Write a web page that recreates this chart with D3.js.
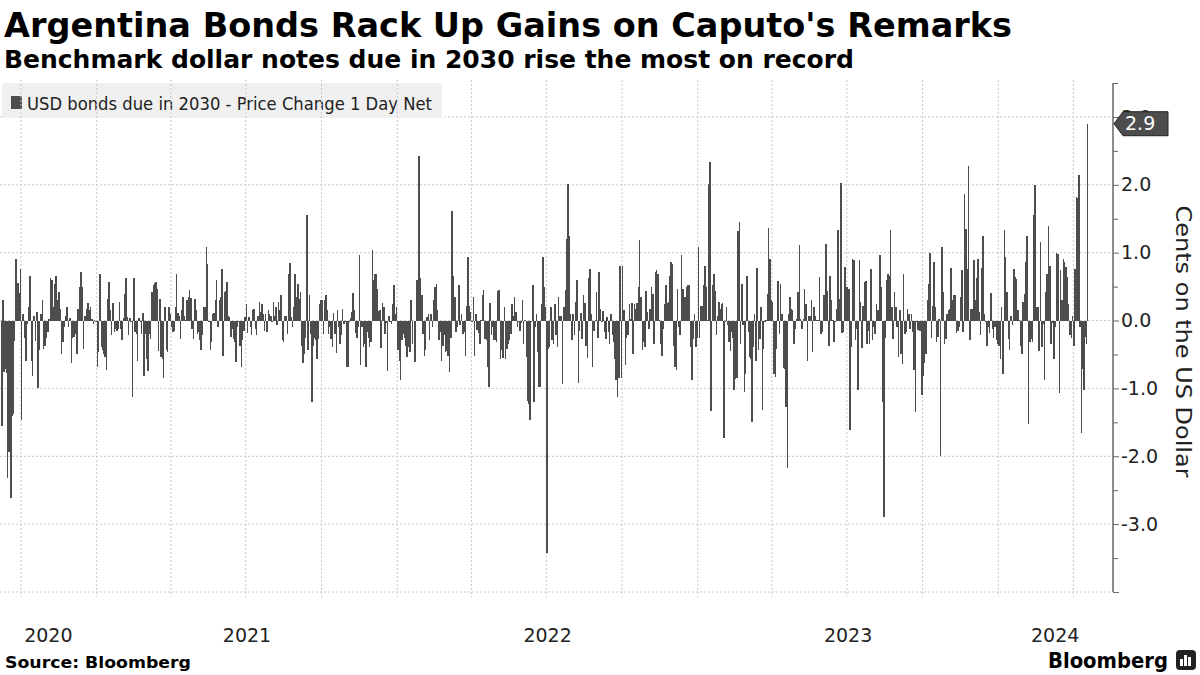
<!DOCTYPE html>
<html>
<head>
<meta charset="utf-8">
<script src="https://cdn.jsdelivr.net/npm/d3@7"></script>
<style>
  html, body { margin: 0; padding: 0; background: #fff; }
  svg { display: block; font-family: "DejaVu Sans", sans-serif; }
</style>
</head>
<body>
<svg id="chart" width="1200" height="675"></svg>
<script>
// Daily net price change (cents on the dollar)
const segmentStarts = ['2020-09-07', '2020-10-01', '2021-01-01', '2021-04-01', '2021-07-01',
  '2021-10-01', '2022-01-01', '2022-04-01', '2022-07-01', '2022-10-01', '2023-01-01',
  '2023-04-01', '2023-07-01', '2023-10-01', '2024-01-01', '2024-04-01'];
const lastDay = '2024-04-19';

const q2020Sep = [-1.55, 0.3, -0.76, -0.72, -0.78, -2.32, -1.94, -1.92, -2.62, -1.4, -1.38, -0.3, 0.91, 0.05, 0.55, 0.4, 0.76];
const q2020Q4 = [-1.46, 0.1, -0.25, -0.59, -0.05, 0.2, 0.65, -0.59, -0.82, 0.06, -0.3, 0.12, -1.0, -0.44, 0.1, 0.3, -0.42, -0.37, -0.25, -0.17, 0.02, 0.63, 0.6, 0.2, 0.54, 0.65, 0.3, 0.42, 0.17, -0.49, -0.32, -0.1, 0.07, 0.2, -0.1, 0.03, -0.63, -0.26, -0.24, -0.2, -0.49, 0.17, 0.49, 0.71, 0.5, -0.42, 0.06, 0.17, 0.26, 0.15, 0.2, 0.02, -0.05, 0.01, -0.02];
const q2021Q1 = [-0.68, -0.47, 0.68, -0.39, -0.44, -0.49, -0.54, -0.73, 0.32, 0.57, 0.15, -0.22, 0.26, -0.17, -0.12, -0.15, -0.12, 0.28, -0.12, -0.29, 0.04, 0.39, 0.63, 0.05, -0.22, 0.04, -0.02, -1.12, 0.63, -0.17, -0.2, -0.59, 0.04, -0.02, -0.2, 0.11, -0.81, -0.2, -0.57, -0.74, -0.2, -0.27, 0.42, 0.52, 0.55, 0.57, 0.47, -0.45, 0.32, -0.54, -0.57, -0.85, 0.2, -0.43, -0.47, 0.2, 0.1];
const q2021Q2 = [-0.1, -0.17, -0.15, 0.2, 0.68, 0.11, 0.06, -0.27, 0.16, 0.35, 0.07, 0.01, 0.3, 0.34, 0.45, 0.33, -0.12, -0.27, 0.32, 0.16, -0.2, -0.17, -0.29, -0.43, -0.21, 0.2, 0.2, 1.09, 0.83, -0.02, -0.44, -0.32, 0.1, 0.11, 0.3, 0.59, -0.1, 0.3, 0.34, 0.76, -0.52, 0.42, 0.44, 0.57, 0.06, 0.05, -0.24, -0.12, -0.27, -0.32, -0.61, -0.1, -0.02, -0.37, -0.69, -0.29, -0.15, 0.05];
const q2021Q3 = [0.24, -0.19, 0.05, -0.1, -0.22, 0.15, 0.17, -0.12, -0.22, 0.07, 0.27, 0.12, 0.25, 0.1, -0.15, 0.1, -0.17, 0.15, 0.1, 0.06, -0.02, 0.27, 0.06, 0.2, -0.07, 0.27, 0.15, 0.38, -0.29, -0.32, 0.07, 0.06, -0.2, 0.69, 0.85, 0.05, -0.1, 0.2, 0.69, 0.34, 0.54, 0.32, 0.42, -0.37, -0.63, -0.49, -0.25, 1.55, -0.44, 0.38, -0.2, -1.2, -0.38, -0.25, -0.29, -0.57, -0.27, 0.25, 0.3];
const q2021Q4 = [0.3, -0.2, 0.3, 0.37, 0.15, -0.2, -0.1, -0.27, -0.39, 0.11, -0.2, -0.48, 0.15, -0.1, -0.34, -0.21, 0.17, -0.05, -0.02, -0.68, -0.69, -0.02, 0.04, 0.12, 0.4, 0.15, -0.19, -0.25, -0.1, 0.97, -0.66, -0.1, -0.39, -0.34, -0.69, -0.17, -0.25, -0.39, -0.32, 1.04, 0.59, 0.69, 0.68, 0.47, 0.14, 0.15, -0.4, 0.26, 0.2, -0.2, -0.04, -0.74, 0.06, -0.02, -0.05, 0.25, 0.53, 0.1, 0.2];
const q2022Q1 = [-0.44, -0.59, -0.88, -0.29, -0.2, -0.25, -0.37, -0.54, -0.39, -0.47, 0.3, -0.34, -0.01, -0.61, 0.59, 0.59, 2.43, 0.63, 0.37, -0.2, -0.52, -0.44, 0.05, 0.1, -0.29, 0.1, -0.1, 0.3, 0.49, 0.54, 0.15, -0.29, -0.17, -0.59, -0.37, -0.21, -0.47, -0.45, -0.52, -0.76, -0.25, 1.62, 0.66, 0.34, -0.17, -0.1, 0.52, -0.07, 0.1, -0.2, -0.17, -0.52, 0.21, 0.94, 0.22, 0.12];
const q2022Q2 = [-0.02, 0.35, -0.52, 0.1, -0.14, -0.19, -0.34, 0.01, 0.38, 0.45, -0.27, -0.29, -0.69, -0.98, 0.26, -0.22, -0.1, -0.29, -0.29, -0.32, 0.43, 0.45, -0.57, -0.44, -0.55, 0.2, -0.57, -0.42, -0.34, -0.29, -0.2, 0.25, 0.07, 0.35, 0.12, -0.1, -0.02, -0.15, -0.04, 0.3, -0.34, 0.01, -0.54, -1.18, -1.23, -1.46, -0.02, 0.53, -1.2, -0.1, 0.09, -0.47, -0.98, -0.98, 0.25, 0.94, 0.5, 0.2];
const q2022Q3 = [-3.43, -0.42, -0.39, 0.2, -0.29, -0.35, 0.25, -0.22, -0.39, 0.35, 0.07, 0.06, -0.93, 0.2, 0.45, 1.2, 2.01, 1.25, 0.1, -0.29, 0.1, -0.22, 0.27, 0.6, -0.92, -0.15, 0.11, -0.27, 0.38, 0.26, -0.38, -0.55, 0.63, 0.76, 0.1, -0.69, -0.15, 0.01, 0.42, -0.25, 0.71, 0.17, -0.02, 0.14, -0.17, -0.27, 0.05, -0.17, -0.35, 0.1, -0.22, -0.32, -0.57, -0.88, -1.13, -0.85, 0.81, -0.84];
const q2022Q4 = [0.81, 0.16, -0.66, -0.25, -0.22, 0.25, 0.02, 0.26, -0.49, 0.25, 0.17, 0.26, 0.49, 1.19, 0.35, -0.44, -0.32, -0.39, 0.44, 0.12, -0.12, 0.17, 0.5, 0.39, -0.34, 0.71, 0.74, 0.69, 0.01, -0.35, -0.52, -0.12, 0.24, 0.53, 0.26, 0.27, 0.65, 0.86, 0.84, -0.37, -0.69, -0.73, 0.47, -0.1, -0.22, 0.96, 0.47, 0.34, 0.34, 0.49, 0.52, 0.53, -0.39, -0.88, -0.27, 0.09, -0.39, -0.25];
const q2023Q1 = [1.09, -0.25, 0.22, 0.22, 0.52, 0.81, 0.5, 0.01, 2.01, 2.33, -1.33, 0.52, 0.69, 0.44, -0.22, 0.07, 0.27, 0.17, 0.25, 0.26, -1.73, -0.02, 0.2, -0.07, -0.32, -0.45, -0.17, -0.25, -1.02, -0.86, -0.85, 1.32, 1.45, -0.35, 0.54, -0.07, -1.06, -0.79, 0.65, -0.17, -0.54, -0.57, -1.49, -0.39, 0.1, -0.59, 0.77, -0.44, -0.27, 0.2, -1.32, -0.42, -0.02, 0.01, 0.39, 1.37, 0.91, 0.3];
const q2023Q2 = [0.28, -0.79, -0.83, -0.42, 0.58, -0.2, 0.54, 0.09, -0.7, -0.71, -1.28, -2.18, 0.1, 0.34, 0.17, 0.15, -0.35, -0.12, 0.02, 0.42, 1.11, 0.02, -0.12, 0.02, 0.47, 0.25, -0.59, 0.07, 0.07, 0.3, -0.47, 0.2, 0.07, 0.01, 0.01, 0.64, -0.2, -0.17, 0.37, 0.38, 1.13, 0.43, -0.38, 0.66, 0.3, 0.01, -0.32, -0.02, 0.17, 1.33, 0.32, 2.02, -0.19, -0.17, 0.79, 0.49];
const q2023Q3 = [0.49, 0.47, -1.62, -0.39, 0.91, 0.89, -0.29, -0.12, -1.02, 0.89, 0.27, -0.4, 0.22, 0.57, 0.58, -0.34, -0.15, -0.35, 0.76, -0.29, -0.1, -0.2, 0.24, 0.15, 0.15, 0.97, 0.5, -1.2, -2.89, -0.25, 0.59, 0.69, 0.66, 1.33, 0.2, -0.27, 0.42, 0.2, -0.1, -0.53, 0.15, -0.49, -0.64, 0.68, -0.2, -0.17, 0.17, 0.1, -0.12, 0.1, -0.17, -0.73, -1.35, -0.02, -0.14, -0.15, -0.15, -1.1];
const q2023Q4 = [-0.81, -0.63, -0.49, 0.3, 0.54, 0.99, -0.25, 0.22, 0.86, 0.2, -0.32, -0.24, 0.02, -1.99, 1.09, 0.42, -0.35, -0.27, 0.1, 0.16, 0.17, 0.78, 0.3, 0.37, 0.38, -0.19, -0.15, -0.1, 0.34, 0.74, -0.17, 1.87, 1.35, 0.76, 2.27, -0.29, 0.17, 0.17, 0.89, 0.3, 0.63, 0.91, 0.12, -0.21, 0.78, 1.25, 0.1, -0.02, -0.37, -0.1, -0.19, 0.4, -0.12, -0.25, -0.1, -0.29, -0.35];
const q2024Q1 = [-0.37, -0.57, 0.2, -0.79, 1.34, 0.93, 0.42, -0.27, -0.44, 0.07, -0.07, 0.76, 0.64, 0.61, 0.15, 0.01, -0.37, -0.49, 0.28, 0.39, 0.86, 1.25, -1.52, -0.32, -0.27, -0.32, 1.55, 1.99, 0.2, 0.2, -0.45, 1.15, -0.39, -0.05, -0.88, 0.42, 0.69, 1.39, 0.81, -0.34, -0.04, -0.57, -0.1, 0.99, 0.98, -1.07, 0.74, 0.3, 0.91, 0.86, 0.79, 0.64, 0.25, -0.22, -0.26, 0.06];
const q2024Apr = [-0.37, 0.76, 1.82, 1.81, 2.15, -0.1, -1.66, -0.71, -1.03, -0.24, -0.35, 2.9];

const segments = [q2020Sep, q2020Q4, q2021Q1, q2021Q2, q2021Q3, q2021Q4, q2022Q1, q2022Q2,
  q2022Q3, q2022Q4, q2023Q1, q2023Q2, q2023Q3, q2023Q4, q2024Q1, q2024Apr];

const yTicks = [-4, -3, -2, -1, 0, 1, 2, 3];
const yearLabels = [2020, 2021, 2022, 2023, 2024];
const lastValueLabel = '2.9';

const title = "Argentina Bonds Rack Up Gains on Caputo's Remarks";
const subtitle = 'Benchmark dollar notes due in 2030 rise the most on record';
const legendLabel = 'USD bonds due in 2030 - Price Change 1 Day Net';
const axisTitle = 'Cents on the US Dollar';

const barColor = '#4d4d4d';
const gridColor = '#c8c8c8';
const parseDay = d3.timeParse('%Y-%m-%d');

// spread each segment's bars across its own stretch of the calendar
const bars = [];
segments.forEach((vals, i) => {
  const start = parseDay(segmentStarts[i]);
  const end = parseDay(i + 1 < segmentStarts.length ? segmentStarts[i + 1] : lastDay);
  const step = (end - start) / vals.length;
  vals.forEach((v, j) => bars.push({ date: new Date(+start + (j + 0.5) * step), value: v }));
});

const svg = d3.select('#chart');
const plot = { left: 0, right: 1112, top: 83, bottom: 592 };

const x = d3.scaleTime()
  .domain([new Date(2020, 8, 5, 12), new Date(2024, 4, 18)])
  .range([plot.left, plot.right]);

const y = d3.scaleLinear()
  .domain([-4, 3.5])
  .range([plot.bottom, plot.top]);

function fit(sel, w) {
  sel.attr('textLength', w).attr('lengthAdjust', 'spacingAndGlyphs');
}

// title block
svg.append('text').attr('x', 4).attr('y', 37)
  .attr('font-size', 34).attr('font-weight', 'bold').attr('fill', '#000')
  .text(title).call(fit, 1008);
svg.append('text').attr('x', 4).attr('y', 68)
  .attr('font-size', 24).attr('font-weight', 'bold').attr('fill', '#000')
  .text(subtitle).call(fit, 850);

// horizontal grid
svg.append('g').selectAll('line').data(yTicks).join('line')
  .attr('x1', plot.left).attr('x2', plot.right)
  .attr('y1', d => y(d)).attr('y2', d => y(d))
  .attr('stroke', gridColor).attr('stroke-dasharray', '2,2');

// legend
const legend = svg.append('g');
legend.append('rect').attr('x', 2).attr('y', 83).attr('width', 440).attr('height', 35)
  .attr('rx', 2).attr('fill', '#f0f0f0');
legend.append('rect').attr('x', 11).attr('y', 96).attr('width', 11).attr('height', 13).attr('fill', barColor);
legend.append('text').attr('x', 27).attr('y', 110).attr('font-size', 18).attr('fill', '#222')
  .text(legendLabel).call(fit, 405);

// vertical grid on quarter starts
svg.append('g').selectAll('line')
  .data(d3.timeMonth.every(3).range(x.domain()[0], x.domain()[1]))
  .join('line')
  .attr('x1', d => x(d)).attr('x2', d => x(d))
  .attr('y1', plot.top - 3).attr('y2', plot.bottom + 5)
  .attr('stroke', gridColor).attr('stroke-dasharray', '2,2');

// bars
const barW = 1.5;
svg.append('g').attr('shape-rendering', 'crispEdges')
  .selectAll('rect').data(bars).join('rect')
  .attr('x', d => x(d.date) - barW / 2)
  .attr('width', barW)
  .attr('y', d => y(Math.max(0, d.value)))
  .attr('height', d => Math.abs(y(d.value) - y(0)))
  .attr('fill', barColor);

// right axis
const yAxis = d3.axisRight(y)
  .tickValues(d3.range(-4, 3.51, 0.5))
  .tickSize(6)
  .tickFormat(d => (Number.isInteger(d) && d > -4) ? d.toFixed(1) : '');
const axisG = svg.append('g').attr('transform', `translate(${plot.right + 1},0)`).call(yAxis);
axisG.select('.domain').attr('stroke', '#666').attr('stroke-width', 1.5).attr('d', `M0,${plot.top}V${plot.bottom}`);
axisG.selectAll('.tick line').attr('stroke', '#666')
  .attr('x2', d => Number.isInteger(d) ? 6 : 5);
axisG.selectAll('.tick text')
  .attr('x', 8).attr('font-size', 19).attr('fill', '#222')
  .attr('font-family', '"DejaVu Sans", sans-serif');

// last value callout, drawn over the 3.0 tick label as in the original
const yl = y(bars[bars.length - 1].value);
const callout = svg.append('g');
callout.append('path')
  .attr('d', `M${plot.right + 2},${yl} L${plot.right + 11},${yl - 12} H${plot.right + 56} V${yl + 12} H${plot.right + 11} Z`)
  .attr('fill', barColor).attr('stroke', '#222').attr('stroke-width', 1);
callout.append('text').attr('x', plot.right + 13).attr('y', yl).attr('dy', '0.35em')
  .attr('font-size', 19).attr('fill', '#fff').text(lastValueLabel);

// axis title
svg.append('text')
  .attr('transform', `translate(1176,${(y(2) + y(-2)) / 2 + 21}) rotate(90)`)
  .attr('text-anchor', 'middle').attr('font-size', 22).attr('fill', '#222')
  .text(axisTitle).call(fit, 272);

// year labels centred on the visible part of each year
svg.append('g').selectAll('text').data(yearLabels).join('text')
  .attr('x', d => {
    const a = Math.max(x(new Date(d, 0, 1)), plot.left);
    const b = Math.min(x(new Date(d + 1, 0, 1)), plot.right);
    return (a + b) / 2;
  })
  .attr('y', 642).attr('text-anchor', 'middle').attr('font-size', 19).attr('fill', '#222')
  .text(d => d);

// footer
svg.append('text').attr('x', 5).attr('y', 668).attr('font-size', 16.5).attr('font-weight', 'bold')
  .attr('fill', '#000').text('Source: Bloomberg').call(fit, 186);
svg.append('text').attr('x', 1168).attr('y', 668).attr('text-anchor', 'end')
  .attr('font-size', 21).attr('font-weight', 'bold').attr('fill', '#000')
  .text('Bloomberg').call(fit, 120);
const logo = svg.append('g').attr('transform', 'translate(1176,650)');
logo.append('rect').attr('width', 20).attr('height', 20).attr('rx', 4).attr('fill', '#222');
logo.selectAll('rect.b').data([[4, 9, 3], [8, 5, 3], [12, 7, 3]]).join('rect').attr('class', 'b')
  .attr('x', d => d[0]).attr('y', d => d[1]).attr('width', d => d[2]).attr('height', d => 16 - d[1])
  .attr('fill', '#fff');
</script>
</body>
</html>
